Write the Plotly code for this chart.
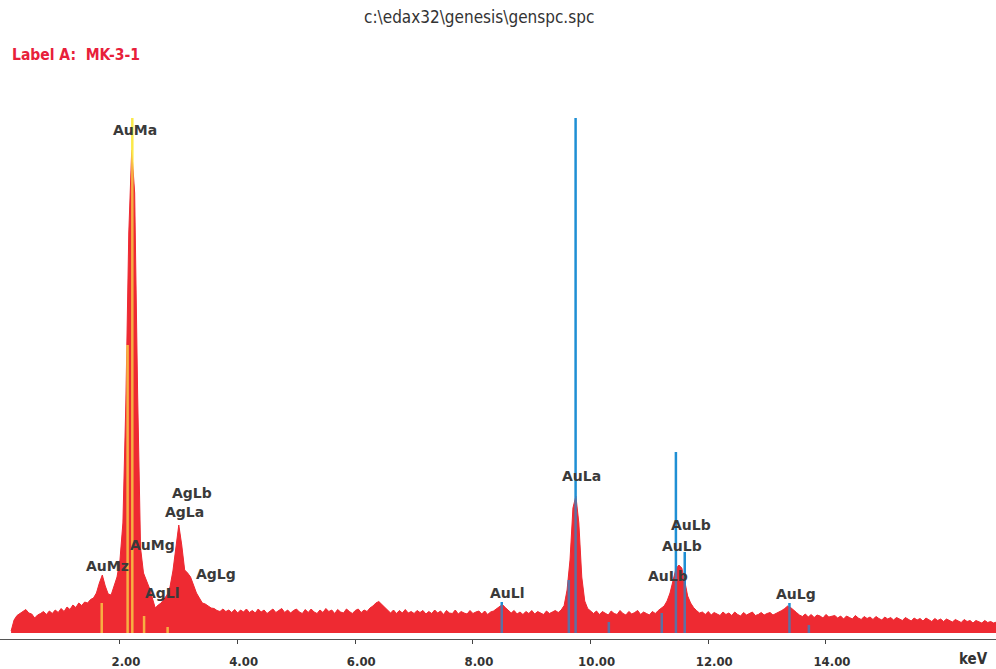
import numpy as np
import plotly.graph_objects as go

# EDS spectrum counts, 0.05 keV per channel starting at 0.15 keV
counts = [
    20, 130, 175, 195, 215, 235, 200, 190, 150, 180, 195, 215, 185, 220, 195, 230, 205, 245, 215, 260,
    235, 280, 255, 300, 275, 310, 300, 335, 350, 400, 500, 580, 470, 390, 380, 460, 560, 730, 1100, 2300,
    4000, 4830, 4400, 2400, 850, 600, 530, 450, 350, 250, 280, 300, 340, 380, 460, 620, 850, 1080, 880, 630,
    600, 560, 480, 400, 350, 300, 290, 270, 250, 245, 225, 215, 240, 215, 230, 205, 235, 200, 230, 210,
    240, 205, 225, 200, 240, 210, 230, 195, 220, 240, 205, 225, 245, 205, 230, 200, 225, 240, 210, 195,
    235, 205, 240, 210, 195, 230, 205, 245, 215, 230, 195, 235, 210, 200, 240, 215, 195, 225, 240, 205,
    230, 215, 250, 270, 300, 315, 285, 250, 230, 200, 230, 195, 225, 200, 235, 200, 215, 195, 225, 205,
    225, 190, 215, 195, 230, 200, 220, 185, 225, 200, 195, 230, 190, 215, 200, 190, 225, 195, 210, 220,
    190, 220, 185, 210, 220, 240, 265, 285, 255, 225, 200, 225, 190, 210, 185, 215, 195, 225, 190, 215,
    200, 185, 220, 195, 210, 225, 205, 230, 275, 430, 730, 1250, 1370, 1100, 560, 320, 245, 215, 195, 220,
    185, 215, 195, 180, 220, 195, 185, 225, 195, 180, 215, 190, 205, 225, 185, 210, 195, 180, 215, 195,
    225, 245, 270, 320, 400, 520, 640, 680, 650, 520, 370, 300, 255, 225, 200, 210, 185, 215, 180, 205,
    190, 175, 210, 185, 200, 175, 210, 185, 170, 205, 180, 195, 210, 175, 185, 205, 180, 195, 205, 180,
    195, 205, 225, 245, 270, 255, 225, 205, 180, 165, 190, 160, 185, 155, 180, 170, 150, 185, 160, 170,
    175, 150, 170, 140, 170, 155, 140, 175, 150, 135, 165, 145, 160, 135, 165, 145, 130, 160, 140, 155,
    130, 155, 140, 125, 155, 135, 120, 150, 130, 145, 120, 150, 130, 115, 145, 125, 140, 115, 140, 125,
    110, 135, 120, 105, 135, 115, 125, 100, 125, 110, 100, 125, 105, 115, 100, 110,
]
start_kev = 0.15
channel_kev = 0.05
energy = np.round(start_kev + channel_kev * np.arange(len(counts)), 2)

# KLM marker lines: Au M / Ag L family (yellow) and Au L family (blue)
m_marker_kev = [1.69, 2.13, 2.21, 2.41, 2.81]
m_marker_top = [300, 2880, 5150, 170, 60]
l_marker_kev = [8.49, 9.63, 9.745, 10.31, 11.21, 11.45, 11.60, 13.38, 13.71]
l_marker_top = [310, 530, 5150, 110, 200, 1810, 810, 300, 80]

# Peak labels
label_text = ["AuMa", "AuMz", "AuMg", "AgLl", "AgLa", "AgLb", "AgLg",
              "AuLl", "AuLa", "AuLb", "AuLb", "AuLb", "AuLg"]
label_kev = [2.256, 1.78, 2.545, 2.73, 3.10, 3.22, 3.63,
             8.59, 9.84, 11.71, 11.55, 11.315, 13.49]
label_cnt = [5030, 670, 880, 400, 1210, 1400, 590,
             400, 1570, 1080, 870, 570, 390]

tick_vals = [2, 4, 6, 8, 10, 12, 14]
tick_text = ["2.00", "4.00", "6.00", "8.00", "10.00", "12.00", "14.00"]

title_text = "c:\\edax32\\genesis\\genspc.spc"
sample_text = "Label A:  MK-3-1"

RED = "#ee2a33"
YELLOW = "#fbe94a"
BLUE = "#1f8fd4"
INK = "#333333"

fig = go.Figure()

# Spectrum body
fig.add_trace(go.Scatter(
    x=energy, y=counts, mode="lines", fill="tozeroy",
    fillcolor=RED, line=dict(color=RED, width=1), hoverinfo="skip",
))

# Marker lines
for kev, top in zip(m_marker_kev, m_marker_top):
    fig.add_trace(go.Scatter(x=[kev, kev], y=[0, top], mode="lines",
                             line=dict(color=YELLOW, width=2.5), hoverinfo="skip"))
for kev, top in zip(l_marker_kev, l_marker_top):
    fig.add_trace(go.Scatter(x=[kev, kev], y=[0, top], mode="lines",
                             line=dict(color=BLUE, width=2.5), hoverinfo="skip"))

# Translucent overlay of the spectrum tints markers inside the peaks
fig.add_trace(go.Scatter(
    x=energy, y=counts, mode="lines", fill="tozeroy",
    fillcolor="rgba(238,42,51,0.3)", line=dict(width=0), hoverinfo="skip",
))

for txt, kev, cnt in zip(label_text, label_kev, label_cnt):
    fig.add_annotation(x=kev, y=cnt, text=txt, showarrow=False,
                       xanchor="center", yanchor="middle",
                       font=dict(family="DejaVu Sans", size=14, color="#3a3a3a",
                                 weight="bold"))

PLOT_TOP, PLOT_BOTTOM, H, W = 100, 639, 669, 996
plot_h = PLOT_BOTTOM - PLOT_TOP


def py(pix):
    return (PLOT_BOTTOM - pix) / plot_h


fig.add_annotation(xref="paper", yref="paper", x=479 / W, y=py(17), text=title_text,
                   showarrow=False, xanchor="center", yanchor="middle",
                   font=dict(family="DejaVu Sans Condensed", size=17, color=INK))
fig.add_annotation(xref="paper", yref="paper", x=10 / W, y=py(55), text=sample_text,
                   showarrow=False, xanchor="left", yanchor="middle",
                   font=dict(family="DejaVu Sans Condensed", size=15.5, color="#e8203a",
                             weight="bold"))
fig.add_annotation(xref="paper", yref="paper", x=990 / W, y=py(659), text="keV",
                   showarrow=False, xanchor="right", yanchor="middle",
                   font=dict(family="DejaVu Sans Condensed", size=15, color=INK,
                             weight="bold"))

px_per_kev = 58.83
x0_pix = 2.3
fig.update_layout(
    width=W, height=H,
    margin=dict(l=0, r=0, t=PLOT_TOP, b=H - PLOT_BOTTOM, pad=0),
    paper_bgcolor="white", plot_bgcolor="white",
    showlegend=False,
    xaxis=dict(
        range=[-x0_pix / px_per_kev, (W - x0_pix) / px_per_kev],
        showgrid=False, zeroline=False, showline=True, linecolor="#555555", linewidth=1,
        ticks="outside", ticklen=4, tickcolor="#444444", tickwidth=1,
        tickvals=tick_vals, ticktext=tick_text,
        ticklabelstandoff=6, ticklabelshift=6,
        tickfont=dict(family="DejaVu Sans Condensed", size=13, color=INK, weight="bold"),
    ),
    yaxis=dict(range=[-60, (633 - PLOT_TOP) * 10], visible=False),
)

fig.write_html("out.html")
